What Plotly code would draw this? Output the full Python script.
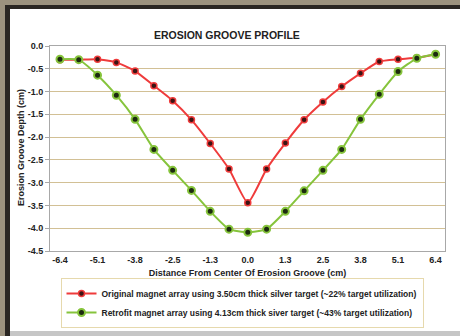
import plotly.graph_objects as go

# ---- data ----
distance = [-6.4, -5.76, -5.12, -4.48, -3.84, -3.2, -2.56, -1.92, -1.28, -0.64, 0.0,
            0.64, 1.28, 1.92, 2.56, 3.2, 3.84, 4.48, 5.12, 5.76, 6.4]
original_depth = [-0.30, -0.30, -0.29, -0.36, -0.55, -0.87, -1.20, -1.62, -2.14, -2.70, -3.44,
                  -2.70, -2.13, -1.62, -1.23, -0.89, -0.60, -0.34, -0.29, -0.26, -0.18]
retrofit_depth = [-0.29, -0.30, -0.64, -1.08, -1.61, -2.27, -2.73, -3.17, -3.63, -4.02, -4.09,
                  -4.02, -3.63, -3.18, -2.73, -2.27, -1.61, -1.06, -0.56, -0.27, -0.18]
x_tick_labels = ["-6.4", "-5.1", "-3.8", "-2.5", "-1.3", "0.0", "1.3", "2.5", "3.8", "5.1", "6.4"]
y_tick_values = [0.0, -0.5, -1.0, -1.5, -2.0, -2.5, -3.0, -3.5, -4.0, -4.5]
y_tick_labels = ["0.0", "-0.5", "-1.0", "-1.5", "-2.0", "-2.5", "-3.0", "-3.5", "-4.0", "-4.5"]
series_names = [
    "Original magnet array using 3.50cm thick silver target (~22% target utilization)",
    "Retrofit magnet array using 4.13cm thick siver target (~43% target utilization)",
]

W, H = 460, 336
L, R, T, B = 50, 15, 46, 85
PW, PH = W - L - R, H - T - B


def px(p):
    return (p - L) / PW


def py(p):
    return (H - B - p) / PH


FONT = "Liberation Sans"
RED = "#ef3b3b"
GREEN = "#86c43c"

fig = go.Figure()
fig.add_trace(go.Scatter(
    x=distance, y=original_depth, name=series_names[0], mode="lines+markers",
    line=dict(color=RED, width=2, shape="spline", smoothing=0.5),
    marker=dict(color="#3a1414", size=6, line=dict(color=RED, width=1.5)),
))
fig.add_trace(go.Scatter(
    x=distance, y=retrofit_depth, name=series_names[1], mode="lines+markers",
    line=dict(color=GREEN, width=2, shape="spline", smoothing=0.5),
    marker=dict(color="#1c2a10", size=7, line=dict(color=GREEN, width=2)),
))

shapes = [
    # outer textured frame (approximated with solid colours)
    dict(type="rect", xref="paper", yref="paper", x0=px(0), x1=px(W), y0=py(0), y1=py(5),
         fillcolor="#9c927e", line=dict(width=0), layer="above"),
    dict(type="rect", xref="paper", yref="paper", x0=px(0), x1=px(5), y0=py(0), y1=py(H),
         fillcolor="#9c927e", line=dict(width=0), layer="above"),
    dict(type="rect", xref="paper", yref="paper", x0=px(5), x1=px(W), y0=py(5), y1=py(9),
         fillcolor="#2a2622", line=dict(width=0), layer="above"),
    dict(type="rect", xref="paper", yref="paper", x0=px(5), x1=px(10), y0=py(5), y1=py(H),
         fillcolor="#2a2622", line=dict(width=0), layer="above"),
    dict(type="rect", xref="paper", yref="paper", x0=px(10), x1=px(W), y0=py(331), y1=py(H),
         fillcolor="#c6c6c6", line=dict(width=0), layer="above"),
]

annotations = [
    dict(text="<b>EROSION GROOVE PROFILE</b>", x=px(227), y=py(35), xref="paper", yref="paper",
         showarrow=False, font=dict(family=FONT, size=10.5, color="#222222"),
         xanchor="center", yanchor="middle"),
    dict(text="<b>Erosion Groove Depth (cm)</b>", x=px(21), y=py(148), xref="paper", yref="paper",
         showarrow=False, textangle=-90, font=dict(family=FONT, size=9, color="#222222"),
         xanchor="center", yanchor="middle"),
]

fig.update_layout(
    width=W, height=H,
    margin=dict(l=L, r=R, t=T, b=B, autoexpand=False),
    paper_bgcolor="white", plot_bgcolor="white",
    shapes=shapes, annotations=annotations,
    font=dict(family=FONT, color="#222222"),
    legend=dict(
        x=px(242), y=py(278), xanchor="center", yanchor="top",
        bgcolor="white", bordercolor="#e6d9ad", borderwidth=1,
        font=dict(family=FONT, size=8.5, color="#222222", weight="bold"),
        itemwidth=30, tracegroupgap=0,
    ),
    showlegend=True,
)
fig.update_xaxes(
    range=[-6.74, 6.72], tickmode="array",
    tickvals=distance[::2], ticktext=x_tick_labels,
    showgrid=False, zeroline=False, showline=True, linecolor="#a8a8a8", linewidth=1,
    mirror=True, ticks="", tickfont=dict(family=FONT, size=9, color="#222222", weight="bold"),
    title=dict(text="<b>Distance From Center Of Erosion Groove (cm)</b>", standoff=5,
               font=dict(family=FONT, size=9, color="#222222")),
)
fig.update_yaxes(
    range=[-4.5, 0.0], tickmode="array", tickvals=y_tick_values, ticktext=y_tick_labels,
    showgrid=True, gridcolor="#d2c095", gridwidth=1, zeroline=False,
    showline=True, linecolor="#a8a8a8", linewidth=1, mirror=True,
    ticks="outside", ticklen=4, tickcolor="#a8a8a8",
    tickfont=dict(family=FONT, size=9, color="#222222", weight="bold"),
)

fig.write_html("out.html", config={"displayModeBar": False},
               post_script="document.body.style.margin='0';")
